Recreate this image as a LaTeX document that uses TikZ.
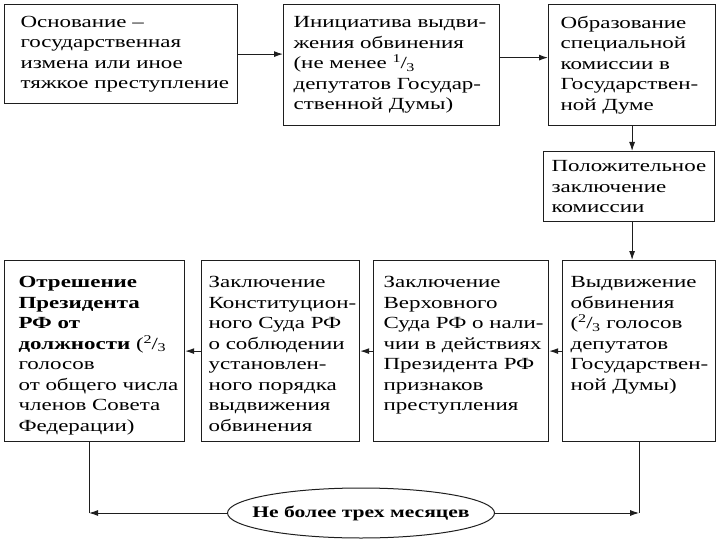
\documentclass[tikz,border=0pt]{standalone}
\usepackage{fontspec}
\setmainfont[FakeStretch=1.35]{Liberation Serif}
\usetikzlibrary{shapes.geometric, arrows.meta}
\definecolor{lineColor}{RGB}{30, 30, 30}
\newcommand{\celltext}[5]{\parbox[c][#2][#3]{#1}{\raggedright\leftskip=#4\relax #5}}
\newcommand{\frc}[2]{\textsuperscript{#1}\kern-0.5pt/\kern-0.5pt\textsubscript{#2}}

\begin{document}
\begin{tikzpicture}[x=1pt, y=-1pt, font=\fontsize{17}{20.5}\selectfont,
	box/.style={draw=lineColor, line width=1.2pt, inner sep=0pt, anchor=north west},
	arr/.style={-{Latex[length=9pt, width=6pt]}, line width=1pt, lineColor}]
					\useasboundingbox (0,0) rectangle (720,540);
					
					% Top row
					\node[box] (basis) at (4,4) {\celltext{233pt}{99pt}{c}{16pt}{Основание --\\ государственная\\ измена или иное\\ тяжкое преступление}};
					\node[box] (initiative) at (283,4) {\celltext{216pt}{121pt}{c}{10pt}{Инициатива выдви-\\ жения обвинения\\ (не менее \frc{1}{3}\\ депутатов Государ-\\ ственной Думы)}};
					\node[box] (commission) at (548,4) {\celltext{167pt}{121pt}{c}{12pt}{Образование\\ специальной\\ комиссии в\\ Государствен-\\ ной Думе}};
					\node[box] (conclusion) at (543,151) {\celltext{171pt}{70pt}{c}{8pt}{Положительное\\ заключение\\ комиссии}};
					
					% Bottom row
					\node[box] (charge) at (562,260) {\celltext{153pt}{181pt}{t}{8pt}{\vspace*{16pt}Выдвижение\\ обвинения\\ (\frc{2}{3} голосов\\ депутатов\\ Государствен-\\ ной Думы)}};
					\node[box] (supreme) at (373,260) {\celltext{175pt}{181pt}{t}{10pt}{\vspace*{16pt}Заключение\\ Верховного\\ Суда РФ о нали-\\ чии в действиях\\ Президента РФ\\ признаков\\ преступления}};
					\node[box] (constitutional) at (201,260) {\celltext{158pt}{181pt}{t}{7pt}{\vspace*{16pt}Заключение\\ Конституцион-\\ ного Суда РФ\\ о соблюдении\\ установлен-\\ ного порядка\\ выдвижения\\ обвинения}};
					\node[box] (removal) at (4,260) {\celltext{180pt}{181pt}{t}{14pt}{\vspace*{16pt}\textbf{Отрешение\\ Президента\\ РФ от\\ должности} (\frc{2}{3}\\ голосов\\ от общего числа\\ членов Совета\\ Федерации)}};
					
					% Time limit
					\node[draw=lineColor, line width=1pt, ellipse, inner sep=0pt, minimum width=267pt, minimum height=50pt, font=\fontsize{16}{20}\selectfont\bfseries] (limit) at (361,513) {\makebox[0pt]{Не более трех месяцев}};
					\coordinate (leftEnd) at (89,513);
					
					% Arrows
					\draw[arr] (basis.east) -- (basis.east -| initiative.west);
					\draw[arr] ([yshift=7.5pt]initiative.east) -- ([yshift=7.5pt]initiative.east -| commission.west);
					\draw[arr] (commission.south) -- (commission.south |- conclusion.north);
					\draw[arr] (conclusion.south -| commission.south) -- (charge.north -| commission.south);
					\draw[arr] (charge.west) -- (supreme.east);
					\draw[arr] (supreme.west) -- (constitutional.east);
					\draw[arr] (constitutional.west) -- (removal.east);
					
					\draw[lineColor, line width=1pt] (removal.south -| leftEnd) -- (leftEnd);
					\draw[arr] (limit.west) -- (leftEnd);
					\draw[lineColor, line width=1pt] (charge.south) -- (charge.south |- limit.east);
					\draw[arr] (limit.east) -- (limit.east -| charge.south);
\end{tikzpicture}
\end{document}
